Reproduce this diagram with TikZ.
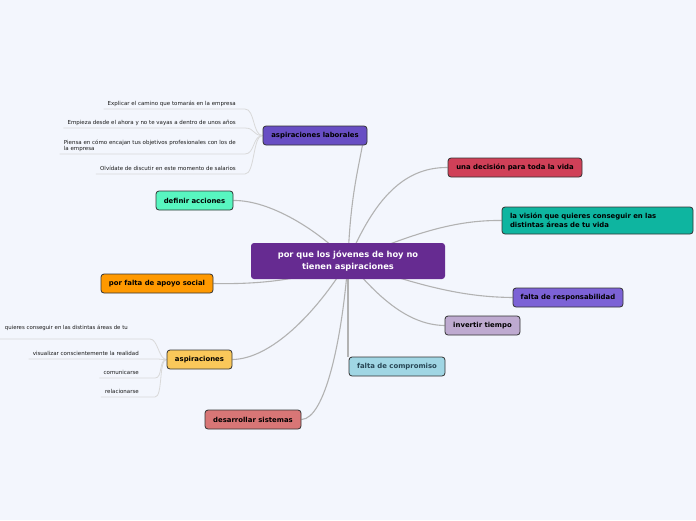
\documentclass[tikz,border=0pt]{standalone}
\usepackage{fontspec}
\setmainfont{DejaVu Sans}
\definecolor{bgc}{RGB}{243,246,253}
\definecolor{mainc}{RGB}{102,43,145}
\definecolor{alc}{RGB}{104,78,196}
\definecolor{decc}{RGB}{208,64,88}
\definecolor{visc}{RGB}{14,181,160}
\definecolor{respc}{RGB}{124,98,214}
\definecolor{invc}{RGB}{190,170,208}
\definecolor{compc}{RGB}{160,214,228}
\definecolor{devc}{RGB}{216,118,118}
\definecolor{aspc}{RGB}{250,200,90}
\definecolor{apoc}{RGB}{255,153,0}
\definecolor{defc}{RGB}{88,246,192}
\pgfdeclarelayer{back}
\pgfsetlayers{back,main}
\tikzset{
  topic/.style={draw=black!80, line width=0.8pt, rounded corners=3pt,
    minimum height=19pt, inner sep=0pt, font=\fontsize{6.9}{9}\selectfont\bfseries},
  leaf/.style={anchor=south east, inner xsep=4pt, inner ysep=2.2pt, text depth=1.3pt,
    align=left, text=black!90, font=\fontsize{5.5}{6.3}\selectfont},
  branch/.style={draw=black!30, line width=1.1pt},
  twig/.style={draw=black!15, line width=0.8pt},
}
\begin{document}
\begin{tikzpicture}[x=1pt,y=-1pt]
\useasboundingbox (0,0) rectangle (696,520);
\node[fill=mainc, rounded corners=3pt, minimum width=194pt, minimum height=36pt,
  text=white, align=center, font=\fontsize{8.3}{12}\selectfont\bfseries] (c) at (348,261)
  {por que los jóvenes de hoy no\\tienen aspiraciones};
\node[topic, fill=alc, minimum width=104pt] (al) at (315,135.5) {aspiraciones laborales};
\node[topic, fill=decc, minimum width=134pt] (dec) at (515,167.5) {una decisión para toda la vida};
\node[topic, fill=visc, minimum width=191pt, minimum height=27pt, inner xsep=8pt,
  text width=175pt, align=left] (vis) at (597.5,220.5)
  {la visión que quieres conseguir en las\\distintas áreas de tu vida};
\node[topic, fill=respc, minimum width=110pt] (resp) at (568,297.5) {falta de responsabilidad};
\node[topic, fill=invc, minimum width=75pt] (inv) at (482.5,325.5) {invertir tiempo};
\node[topic, fill=compc, minimum width=96pt, text={rgb,255:red,40;green,70;blue,85}]
  (comp) at (397,366.5) {falta de compromiso};
\node[topic, fill=devc, minimum width=96pt] (dev) at (253,419.5) {desarrollar sistemas};
\node[topic, fill=aspc, minimum width=65pt] (asp) at (199.5,359.5) {aspiraciones};
\node[topic, fill=apoc, minimum width=112pt] (apo) at (157,283.5) {por falta de apoyo social};
\node[topic, fill=defc, minimum width=77pt] (def) at (194.5,200.5) {definir acciones};

% hojas de aspiraciones laborales
\node[leaf] (l1) at (240,109) {Explicar el camino que tomarás en la empresa};
\node[leaf] (l2) at (240,128) {Empieza desde el ahora y no te vayas a dentro de unos años};
\node[leaf] (l3) at (240,154) {Piensa en cómo encajan tus objetivos profesionales con los de\\la empresa};
\node[leaf] (l4) at (240,174) {Olvídate de discutir en este momento de salarios};
% hojas de aspiraciones
\node[leaf, anchor=base east, inner xsep=0pt, font=\fontsize{5.4}{6.3}\selectfont] (s1) at (128,329)
  {quieres conseguir en las distintas áreas de tu};
\coordinate (s1e) at (150,339);
\node[leaf] (s2) at (143,359) {visualizar conscientemente la realidad};
\node[leaf] (s3) at (143,378) {comunicarse};
\node[leaf] (s4) at (143,397) {relacionarse};

\begin{pgfonlayer}{back}
\fill[bgc] (0,0) rectangle (696,520);
\draw[branch] (c.center) .. controls (350,200) and (358,170) .. ([xshift=-5pt]al.south east);
\draw[branch] (c.center) .. controls (372,205) and (400,167) .. (dec.west);
\draw[branch] (c.center) .. controls (420,230) and (460,220) .. (vis.west);
\draw[branch] (c.center) .. controls (430,290) and (470,297) .. (resp.west);
\draw[branch] (c.center) .. controls (380,300) and (410,325) .. (inv.west);
\draw[branch] (c.center) -- (c.center |- comp.north);
\draw[branch] (c.center) .. controls (342,340) and (325,419) .. (dev.east);
\draw[branch] (c.center) .. controls (315,315) and (270,359) .. (asp.east);
\draw[branch] (c.center) .. controls (300,284) and (240,284) .. (apo.east);
\draw[branch] (c.center) .. controls (318,230) and (270,200) .. (def.east);
\foreach \l in {l1,l2,l3,l4}
  \draw[twig] (\l.south west) -- ([xshift=5pt]\l.south east) .. controls +(10,0) and +(-10,0) .. (al.west);
\foreach \l in {s2,s3,s4}
  \draw[twig] (\l.south west) -- ([xshift=12pt]\l.south east) .. controls +(8,0) and +(-8,0) .. (asp.west);
\draw[twig] (asp.west) .. controls +(-8,0) and +(8,0) .. (s1e) -- ++(-150,0);
\end{pgfonlayer}
\end{tikzpicture}
\end{document}
